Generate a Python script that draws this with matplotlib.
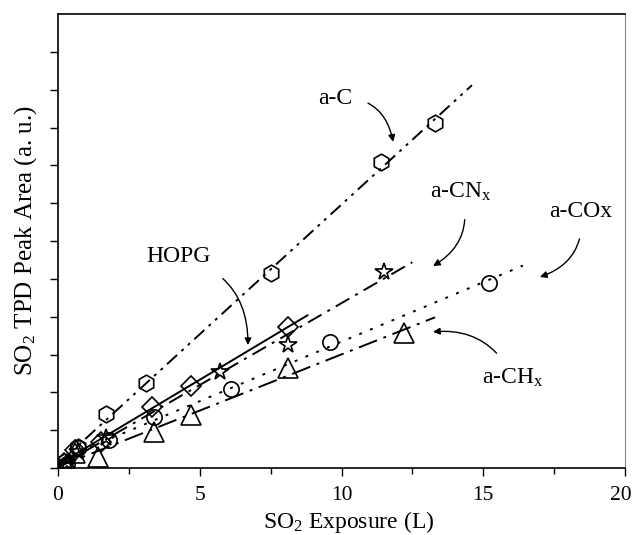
import matplotlib.pyplot as plt
import matplotlib.transforms as mtransforms
import numpy as np

plt.rcParams['font.family'] = ['Liberation Serif', 'DejaVu Serif']
plt.rcParams['mathtext.fontset'] = 'custom'
plt.rcParams['mathtext.rm'] = 'Liberation Serif'
plt.rcParams['mathtext.it'] = 'Liberation Serif:italic'

# 各樣品的數據 (SO2 曝露量, TPD 峰面積)
ac_x = [0.2, 0.7, 1.7, 3.1, 7.5, 11.4, 13.3]
ac_y = [0.15, 0.55, 1.43, 2.25, 5.15, 8.09, 9.12]

hopg_x = [0.2, 0.6, 1.5, 3.3, 4.7, 8.1]
hopg_y = [0.12, 0.48, 0.69, 1.61, 2.17, 3.73]

cn_x = [0.3, 0.7, 1.7, 5.7, 8.1, 11.5]
cn_y = [0.12, 0.42, 0.79, 2.54, 3.25, 5.18]

co_x = [0.3, 0.7, 1.8, 3.4, 6.1, 9.6, 15.2]
co_y = [0.1, 0.53, 0.74, 1.35, 2.09, 3.33, 4.89]

ch_x = [0.3, 0.6, 1.4, 3.4, 4.7, 8.1, 12.2]
ch_y = [0.1, 0.4, 0.29, 0.95, 1.40, 2.64, 3.57]

# 擬合線的終點
fit_end = {'ac': 14.6, 'hopg': 8.8, 'cn': 12.5, 'co': 16.4, 'ch': 13.3}

fig = plt.figure(figsize=(6.34, 5.35), dpi=100)
ax = fig.add_axes([0.0915, 0.1252, 0.8943, 0.8486])

series = [
    ('ac', ac_x, ac_y, 'h', (0, (7, 3, 1.5, 3, 1.5, 3)), 12),
    ('hopg', hopg_x, hopg_y, 'D', '-', 10),
    ('cn', cn_x, cn_y, '*', (0, (8, 3.5, 1.5, 3.5)), 13),
    ('co', co_x, co_y, 'o', (0, (1.5, 4.5)), 11),
    ('ch', ch_x, ch_y, '^', (0, (10, 3.5, 1.5, 3.5)), 14),
]

for key, xs, ys, mk, ls, ms in series:
    k, b = np.polyfit(xs, ys, 1)
    xx = np.array([0, fit_end[key]])
    ax.plot(xx, k * xx + b, color='black', linestyle=ls, linewidth=1.4)
    ax.plot(xs, ys, linestyle='none', marker=mk, markersize=ms,
            markerfacecolor='none', markeredgecolor='black', markeredgewidth=1.2)

fs = 17
arrow = dict(arrowstyle='-|>', color='black', lw=1.0, mutation_scale=10)

ax.annotate('a-C', xy=(11.82, 8.62), xytext=(9.77, 9.78), fontsize=fs,
            ha='center', va='center',
            arrowprops=dict(arrow, connectionstyle='arc3,rad=-0.45',
                            shrinkA=10, shrinkB=0))
ax.annotate('a-CN$_\\mathrm{x}$', xy=(13.23, 5.34), xytext=(14.2, 7.3), fontsize=fs,
            ha='center', va='center',
            arrowprops=dict(arrow, connectionstyle='arc3,rad=-0.4',
                            shrinkA=10, shrinkB=0))
ax.annotate('a-COx', xy=(17.0, 5.05), xytext=(18.45, 6.77), fontsize=fs,
            ha='center', va='center',
            arrowprops=dict(arrow, connectionstyle='arc3,rad=-0.4',
                            shrinkA=10, shrinkB=0))
ax.annotate('a-CH$_\\mathrm{x}$', xy=(13.23, 3.6), xytext=(16.05, 2.38), fontsize=fs,
            ha='center', va='center',
            arrowprops=dict(arrow, connectionstyle='arc3,rad=0.35',
                            shrinkA=10, shrinkB=0))
ax.annotate('HOPG', xy=(6.7, 3.25), xytext=(4.24, 5.58), fontsize=fs,
            ha='center', va='center',
            arrowprops=dict(arrow, connectionstyle='arc3,rad=-0.4',
                            shrinkA=10, shrinkB=0))

ax.set_xlim(0, 20)
ax.set_ylim(0, 12)
ax.set_xticks([0, 5, 10, 15, 20])
ax.set_xticks([2.5, 7.5, 12.5, 17.5], minor=True)
ax.set_yticks(np.arange(0, 12, 1))
ax.set_yticklabels([])
ax.tick_params(axis='both', which='major', direction='out', length=6, width=1.0,
               labelsize=15.5, pad=7, top=False, right=False)
ax.tick_params(axis='x', which='minor', direction='out', length=4, width=1.0)
ax.spines['right'].set_color('#888888')
for s in ['left', 'bottom', 'top']:
    ax.spines[s].set_linewidth(1.2)

# "20" 稍微往左移, 避免被裁切
lab = ax.xaxis.get_majorticklabels()[-1]
lab.set_transform(lab.get_transform() +
                  mtransforms.ScaledTranslation(-0.04, 0, fig.dpi_scale_trans))

ax.set_xlabel('SO$_2$ Exposure (L)', fontsize=fs, labelpad=3, x=0.512)
ax.set_ylabel('SO$_2$ TPD Peak Area (a. u.)', fontsize=18, labelpad=1)

fig.savefig('out.png', dpi=100)
